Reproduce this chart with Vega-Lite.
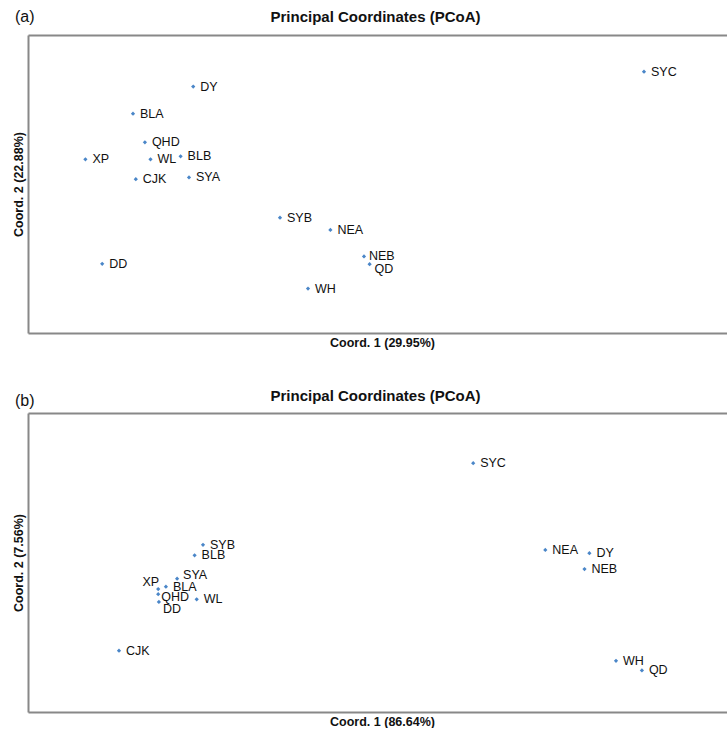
{
  "$schema": "https://vega.github.io/schema/vega-lite/v6.json",
  "padding": {"left": 12, "right": 0, "top": 9, "bottom": 0},
  "background": "white",
  "spacing": 39,
  "config": {
    "font": "Liberation Sans",
    "view": {"stroke": null},
    "axis": {"domainColor": "#888888", "domainWidth": 2, "ticks": false, "labels": false, "grid": false, "titleFont": "Liberation Sans", "titleFontSize": 12.5, "titleFontWeight": "bold", "titleColor": "#111111"},
    "title": {"font": "Liberation Sans", "fontSize": 16, "fontWeight": "normal", "anchor": "start", "frame": "bounds", "color": "#111111"}
  },
  "datasets": {
    "a": [
      {"name": "DY", "x": -0.264, "y": 0.327},
      {"name": "BLA", "x": -0.350, "y": 0.236},
      {"name": "QHD", "x": -0.333, "y": 0.140},
      {"name": "XP", "x": -0.418, "y": 0.083},
      {"name": "WL", "x": -0.325, "y": 0.083},
      {"name": "BLB", "x": -0.282, "y": 0.093},
      {"name": "CJK", "x": -0.346, "y": 0.016},
      {"name": "SYA", "x": -0.270, "y": 0.022},
      {"name": "SYB", "x": -0.140, "y": -0.113},
      {"name": "NEA", "x": -0.068, "y": -0.154},
      {"name": "NEB", "x": -0.020, "y": -0.243},
      {"name": "QD", "x": -0.012, "y": -0.269},
      {"name": "DD", "x": -0.394, "y": -0.268},
      {"name": "WH", "x": -0.100, "y": -0.351},
      {"name": "SYC", "x": 0.380, "y": 0.377}
    ],
    "b": [
      {"name": "SYC", "x": 0.136, "y": 0.332},
      {"name": "NEA", "x": 0.239, "y": 0.042},
      {"name": "DY", "x": 0.302, "y": 0.031},
      {"name": "NEB", "x": 0.295, "y": -0.022},
      {"name": "WH", "x": 0.340, "y": -0.329},
      {"name": "QD", "x": 0.377, "y": -0.361},
      {"name": "SYB", "x": -0.250, "y": 0.059},
      {"name": "BLB", "x": -0.262, "y": 0.024},
      {"name": "SYA", "x": -0.287, "y": -0.054},
      {"name": "XP", "x": -0.314, "y": -0.089},
      {"name": "BLA", "x": -0.303, "y": -0.081},
      {"name": "QHD", "x": -0.314, "y": -0.106},
      {"name": "DD", "x": -0.313, "y": -0.132},
      {"name": "WL", "x": -0.259, "y": -0.123},
      {"name": "CJK", "x": -0.370, "y": -0.295}
    ]
  },
  "vconcat": [
    {
      "title": {"text": "(a)", "dx": 3, "dy": 20},
      "width": 700,
      "height": 298,
      "data": {"name": "a"},
      "resolve": {"axis": {"x": "independent"}},
      "encoding": {
        "y": {"field": "y", "type": "quantitative", "scale": {"domain": [-0.5, 0.5], "nice": false, "zero": false}, "axis": {"title": "Coord. 2 (22.88%)", "titlePadding": 3}}
      },
      "layer": [
        {
          "mark": {"type": "point", "shape": "diamond", "filled": true, "size": 18, "color": "#4a86c8", "opacity": 1},
          "encoding": {
            "x": {"field": "x", "type": "quantitative", "scale": {"domain": [-0.5, 0.5], "nice": false, "zero": false}, "axis": {"orient": "bottom", "title": "Coord. 1 (29.95%)", "titlePadding": 3, "titleX": 354}}
          }
        },
        {
          "transform": [{"filter": "datum.name !== 'QD' && datum.name !== 'NEB'"}],
          "mark": {"type": "text", "align": "left", "baseline": "middle", "dx": 7, "fontSize": 12.5, "color": "#111111"},
          "encoding": {
            "x": {"field": "x", "type": "quantitative", "scale": {"domain": [-0.5, 0.5], "nice": false, "zero": false}, "axis": {"orient": "top", "title": "Principal Coordinates (PCoA)", "titleFontSize": 15, "titleBaseline": "alphabetic", "titlePadding": 14, "titleX": 347}},
            "text": {"field": "name"}
          }
        },
        {
          "transform": [{"filter": "datum.name === 'NEB'"}],
          "mark": {"type": "text", "align": "left", "baseline": "middle", "dx": 5, "fontSize": 12.5, "color": "#111111"},
          "encoding": {
            "x": {"field": "x", "type": "quantitative", "axis": null},
            "text": {"field": "name"}
          }
        },
        {
          "transform": [{"filter": "datum.name === 'QD'"}],
          "mark": {"type": "text", "align": "left", "baseline": "middle", "dx": 5, "dy": 4.5, "fontSize": 12.5, "color": "#111111"},
          "encoding": {
            "x": {"field": "x", "type": "quantitative", "axis": null},
            "text": {"field": "name"}
          }
        }
      ]
    },
    {
      "title": {"text": "(b)", "dx": 3, "dy": 25},
      "width": 700,
      "height": 299,
      "data": {"name": "b"},
      "resolve": {"axis": {"x": "independent"}},
      "encoding": {
        "y": {"field": "y", "type": "quantitative", "scale": {"domain": [-0.5, 0.5], "nice": false, "zero": false}, "axis": {"title": "Coord. 2 (7.56%)", "titlePadding": 3}}
      },
      "layer": [
        {
          "mark": {"type": "point", "shape": "diamond", "filled": true, "size": 18, "color": "#4a86c8", "opacity": 1},
          "encoding": {
            "x": {"field": "x", "type": "quantitative", "scale": {"domain": [-0.5, 0.5], "nice": false, "zero": false}, "axis": {"orient": "bottom", "title": "Coord. 1 (86.64%)", "titlePadding": 3, "titleX": 354}}
          }
        },
        {
          "transform": [{"filter": "datum.name !== 'XP' && datum.name !== 'QHD' && datum.name !== 'DD' && datum.name !== 'SYA'"}],
          "mark": {"type": "text", "align": "left", "baseline": "middle", "dx": 7, "fontSize": 12.5, "color": "#111111"},
          "encoding": {
            "x": {"field": "x", "type": "quantitative", "scale": {"domain": [-0.5, 0.5], "nice": false, "zero": false}, "axis": {"orient": "top", "title": "Principal Coordinates (PCoA)", "titleFontSize": 15, "titleBaseline": "alphabetic", "titlePadding": 13, "titleX": 347}},
            "text": {"field": "name"}
          }
        },
        {
          "transform": [{"filter": "datum.name === 'XP'"}],
          "mark": {"type": "text", "align": "right", "baseline": "middle", "dx": 1, "dy": -7.5, "fontSize": 12.5, "color": "#111111"},
          "encoding": {
            "x": {"field": "x", "type": "quantitative", "axis": null},
            "text": {"field": "name"}
          }
        },
        {
          "transform": [{"filter": "datum.name === 'QHD'"}],
          "mark": {"type": "text", "align": "left", "baseline": "middle", "dx": 3, "dy": 3, "fontSize": 12.5, "color": "#111111"},
          "encoding": {
            "x": {"field": "x", "type": "quantitative", "axis": null},
            "text": {"field": "name"}
          }
        },
        {
          "transform": [{"filter": "datum.name === 'DD'"}],
          "mark": {"type": "text", "align": "left", "baseline": "middle", "dx": 4, "dy": 7.5, "fontSize": 12.5, "color": "#111111"},
          "encoding": {
            "x": {"field": "x", "type": "quantitative", "axis": null},
            "text": {"field": "name"}
          }
        },
        {
          "transform": [{"filter": "datum.name === 'SYA'"}],
          "mark": {"type": "text", "align": "left", "baseline": "middle", "dx": 6, "dy": -3.5, "fontSize": 12.5, "color": "#111111"},
          "encoding": {
            "x": {"field": "x", "type": "quantitative", "axis": null},
            "text": {"field": "name"}
          }
        }
      ]
    }
  ]
}
